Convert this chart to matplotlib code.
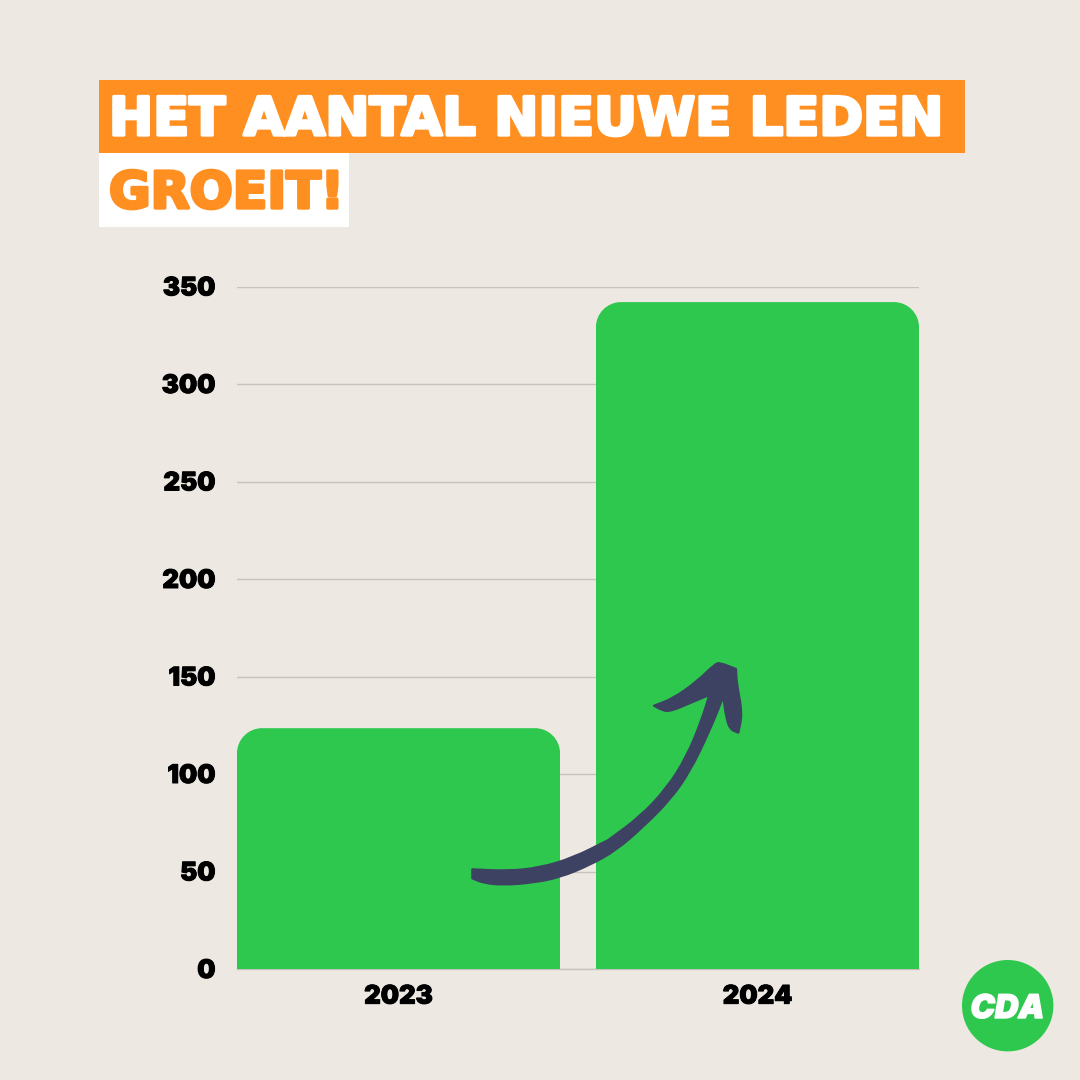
import matplotlib
matplotlib.use("Agg")
import matplotlib.pyplot as plt
from matplotlib.patches import Rectangle, Circle, PathPatch
from matplotlib.path import Path
from matplotlib.transforms import IdentityTransform
from matplotlib import patheffects as pe

categories = ["2023", "2024"]
values = [123.5, 342]
y_ticks = [0, 50, 100, 150, 200, 250, 300, 350]
title_line1 = "HET AANTAL NIEUWE LEDEN"
title_line2 = "GROEIT!"
logo_text = "CDA"

BG = "#ede8e2"
GREEN = "#2ec84f"
ORANGE = "#ff8f20"
NAVY = "#3d4263"
GRID = "#c6c2bd"
FONT = ["Inter", "DejaVu Sans"]
TITLE_FONT = ["DejaVu Sans"]

W = H = 1080
fig = plt.figure(figsize=(W / 100, H / 100), dpi=100, facecolor=BG)

L, R, T, B = 237, 919, 286.5, 969
ax = fig.add_axes([L / W, 1 - B / H, (R - L) / W, (B - T) / H], facecolor="none")
ax.set_xlim(-0.45, 1.45)
ax.set_ylim(0, 350)
ax.set_yticks(y_ticks)
ax.set_xticks([0, 1], categories)
for s in ("top", "right", "left"):
    ax.spines[s].set_visible(False)
ax.spines["bottom"].set_color(GRID)
ax.spines["bottom"].set_linewidth(1)
ax.grid(axis="y", color=GRID, lw=1)
ax.set_axisbelow(True)
ax.tick_params(axis="both", length=0)
ax.tick_params(axis="y", pad=15.5)
ax.tick_params(axis="x", pad=12)
for lab in ax.get_xticklabels() + ax.get_yticklabels():
    lab.set_fontfamily(FONT)
    lab.set_fontsize(18.5)
    lab.set_fontweight(900)
    lab.set_color("black")
    lab.set_path_effects([pe.withStroke(linewidth=0.7, foreground="black")])

bars = ax.bar(range(len(values)), values, width=0.9, color=GREEN, zorder=3)
fig.canvas.draw()
r = 25  # corner radius in pixels
for bar in bars:
    bb = bar.get_window_extent()
    x0, x1, y0, y1 = bb.x0, bb.x1, bb.y0, bb.y1
    k = 0.55 * r
    verts = [(x0, y0), (x0, y1 - r), (x0, y1 - r + k), (x0 + r - k, y1), (x0 + r, y1),
             (x1 - r, y1), (x1 - r + k, y1), (x1, y1 - r + k), (x1, y1 - r), (x1, y0), (x0, y0)]
    codes = [Path.MOVETO, Path.LINETO, Path.CURVE4, Path.CURVE4, Path.CURVE4,
             Path.LINETO, Path.CURVE4, Path.CURVE4, Path.CURVE4, Path.LINETO, Path.CLOSEPOLY]
    bar.set_clip_path(Path(verts, codes), IdentityTransform())

ov = fig.add_axes([0, 0, 1, 1], facecolor="none", zorder=5)
ov.set_xlim(0, W)
ov.set_ylim(H, 0)
ov.axis("off")

ov.add_patch(Rectangle((99, 80), 866, 73, color=ORANGE, lw=0))
ov.add_patch(Rectangle((99, 153), 250, 74, color="white", lw=0))
ov.text(109, 135, title_line1, color="white", fontsize=38, fontfamily=TITLE_FONT, fontweight="bold",
        va="baseline", path_effects=[pe.withStroke(linewidth=2.4, foreground="white")])
ov.text(109, 208, title_line2, color=ORANGE, fontsize=36.5, fontfamily=TITLE_FONT, fontweight="bold",
        va="baseline", path_effects=[pe.withStroke(linewidth=2.4, foreground=ORANGE)])

# hand-drawn arrow outline, traced in a 3x crop with origin (440, 640); doubled points stay sharp
arrow_trace = [(97, 688), (97, 688), (205, 693), (300, 683), (400, 653), (505, 600), (505, 600),
               (600, 530), (680, 445), (740, 350), (785, 240), (808, 165), (808, 165), (760, 185),
               (690, 215), (665, 210), (642, 197), (642, 197), (700, 175), (770, 125), (825, 72),
               (840, 68), (888, 87), (888, 87), (890, 130), (907, 220), (895, 278), (895, 278),
               (870, 268), (858, 230), (850, 170), (850, 170), (810, 270), (750, 395), (690, 480),
               (610, 560), (530, 630), (450, 675), (360, 712), (280, 728), (190, 735), (130, 729),
               (97, 715), (97, 715)]
pts = [(440 + x / 3, 640 + y / 3) for x, y in arrow_trace]
mid = lambda a, b: ((a[0] + b[0]) / 2, (a[1] + b[1]) / 2)
n = len(pts)
verts = [mid(pts[-1], pts[0])]
codes = [Path.MOVETO]
for i in range(n):
    verts += [pts[i], mid(pts[i], pts[(i + 1) % n])]
    codes += [Path.CURVE3, Path.CURVE3]
ov.add_patch(PathPatch(Path(verts, codes), facecolor=NAVY, edgecolor=NAVY, lw=1.6, joinstyle="round"))

ov.add_patch(Circle((1007.7, 1005.7), 45.7, color=GREEN, lw=0))
ov.text(1007.5, 1018, logo_text, color="white", fontsize=23.5, fontfamily=FONT, fontweight=900, style="italic",
        ha="center", va="baseline", path_effects=[pe.withStroke(linewidth=1, foreground="white")])

fig.savefig("out.png", dpi=100, facecolor=BG)
